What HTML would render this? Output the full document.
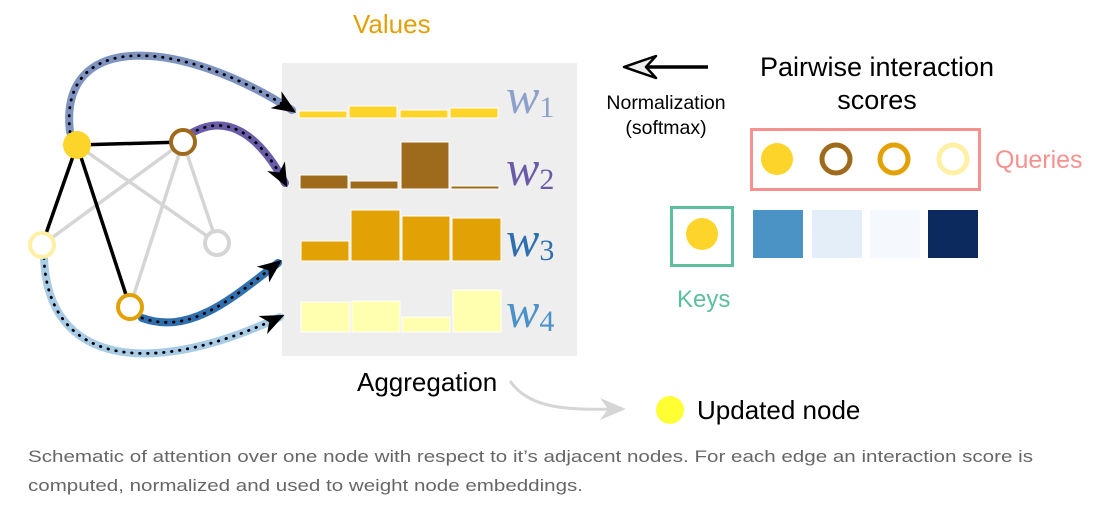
<!DOCTYPE html>
<html><head><meta charset="utf-8"><style>
html,body{margin:0;padding:0;background:#fff;}
svg{display:block;font-family:"Liberation Sans",sans-serif;}
</style></head><body>
<svg width="1104" height="526" viewBox="0 0 1104 526" xmlns="http://www.w3.org/2000/svg">
<defs>
<marker id="ah" viewBox="0 0 24 24" refX="19" refY="12" markerWidth="24" markerHeight="24" markerUnits="userSpaceOnUse" orient="auto">
<path d="M0,2 L24,12 L0,22 L7,12 Z" fill="#000"/>
</marker>
</defs>
<rect x="282" y="63" width="295" height="293" fill="#eeeeee"/>
<text x="353" y="33" font-size="26" fill="#e3a008">Values</text>
<g fill="#fdd42a" stroke="#fff" stroke-width="1">
<rect x="299" y="111" width="48" height="7"/><rect x="349" y="106" width="48" height="12"/><rect x="400" y="110" width="48" height="8"/><rect x="450" y="108" width="48" height="10"/>
</g>
<g fill="#9e6b1d" stroke="#fff" stroke-width="1">
<rect x="300" y="175" width="48" height="14"/><rect x="350" y="181" width="48" height="8"/><rect x="401" y="142" width="48" height="47"/><rect x="451" y="186" width="48" height="3"/>
</g>
<g fill="#e2a206" stroke="#fff" stroke-width="1">
<rect x="301" y="241" width="48" height="20"/><rect x="351" y="210" width="49" height="51"/><rect x="402" y="216" width="48" height="45"/><rect x="452" y="218" width="49" height="43"/>
</g>
<g fill="#ffffaf" stroke="#fff" stroke-width="1">
<rect x="301" y="302" width="49" height="30"/><rect x="352" y="301" width="48" height="31"/><rect x="402" y="317" width="48" height="15"/><rect x="453" y="290" width="48" height="42"/>
</g>
<g font-family="'Liberation Serif',serif" font-style="italic" font-size="50">
<text x="506" y="113" fill="#8da0cb">w<tspan font-size="30" font-style="normal" dy="4">1</tspan></text>
<text x="506" y="185" fill="#6a5aa8">w<tspan font-size="30" font-style="normal" dy="4">2</tspan></text>
<text x="506" y="256" fill="#2f6fb0">w<tspan font-size="30" font-style="normal" dy="4">3</tspan></text>
<text x="506" y="327" fill="#4a92c8">w<tspan font-size="30" font-style="normal" dy="4">4</tspan></text>
</g>
<g stroke="#d5d5d5" stroke-width="3.5">
<line x1="77" y1="145" x2="217" y2="243"/><line x1="183" y1="142" x2="42" y2="245"/><line x1="183" y1="142" x2="130" y2="307"/><line x1="183" y1="142" x2="217" y2="243"/>
</g>
<g stroke="#000" stroke-width="3.5">
<line x1="77" y1="145" x2="183" y2="142"/><line x1="77" y1="145" x2="42" y2="245"/><line x1="77" y1="145" x2="130" y2="307"/>
</g>
<g fill="none" stroke-linecap="round">
<path d="M70,132 C58,30 180,38 292,110" stroke="#7f93c0" stroke-width="8"/>
<path d="M70,132 C58,30 180,38 292,110" stroke="#000" stroke-width="2.8" stroke-dasharray="0.5 7.5" marker-end="url(#ah)"/>
<path d="M190,134 C230,110 262,140 285,183" stroke="#6a5ca8" stroke-width="8"/>
<path d="M190,134 C230,110 262,140 285,183" stroke="#000" stroke-width="2.8" stroke-dasharray="0.5 7.5" marker-end="url(#ah)"/>
<path d="M142,318 C190,335 230,300 278,263" stroke="#2f6fad" stroke-width="8"/>
<path d="M142,318 C190,335 230,300 278,263" stroke="#000" stroke-width="2.8" stroke-dasharray="0.5 7.5" marker-end="url(#ah)"/>
<path d="M44,258 C48,365 150,378 280,317" stroke="#a8cbe6" stroke-width="8"/>
<path d="M44,258 C48,365 150,378 280,317" stroke="#000" stroke-width="2.8" stroke-dasharray="0.5 7.5" marker-end="url(#ah)"/>
</g>
<circle cx="77" cy="145" r="14" fill="#fdd42a"/>
<circle cx="183" cy="142" r="12" fill="#fff" stroke="#9e6b1d" stroke-width="4"/>
<circle cx="42" cy="245" r="12" fill="#fff" stroke="#fff0a5" stroke-width="4"/>
<circle cx="217" cy="243" r="12" fill="#fff" stroke="#d5d5d5" stroke-width="4"/>
<circle cx="130" cy="307" r="12" fill="#fff" stroke="#e2a206" stroke-width="4"/>
<line x1="645" y1="67" x2="708" y2="67" stroke="#000" stroke-width="3.5"/>
<path d="M624,67 L656,56 L646,67 L656,78 Z" fill="#eee" stroke="#000" stroke-width="2.5" stroke-linejoin="round"/>
<text x="666" y="109" font-size="19.5" text-anchor="middle">Normalization</text>
<text x="666" y="134" font-size="19.5" text-anchor="middle">(softmax)</text>
<text x="877" y="76" font-size="27" text-anchor="middle">Pairwise interaction</text>
<text x="877" y="109" font-size="27" text-anchor="middle">scores</text>
<rect x="751.5" y="129.5" width="228" height="60" fill="none" stroke="#f59290" stroke-width="3"/>
<circle cx="777" cy="159" r="16" fill="#fdd42a"/>
<circle cx="836" cy="159" r="14" fill="#fff" stroke="#9e6b1d" stroke-width="5"/>
<circle cx="894" cy="159" r="14" fill="#fff" stroke="#e2a206" stroke-width="5"/>
<circle cx="953" cy="159" r="14" fill="#fff" stroke="#fff0a5" stroke-width="5"/>
<text x="995" y="168" font-size="25" fill="#f59290">Queries</text>
<rect x="671.5" y="207.5" width="61" height="58" fill="none" stroke="#5cbf9d" stroke-width="3"/>
<circle cx="702" cy="234" r="16" fill="#fdd42a"/>
<rect x="753" y="210" width="50" height="48" fill="#4b93c5"/>
<rect x="812" y="210" width="50" height="48" fill="#e4eef8"/>
<rect x="870" y="210" width="50" height="48" fill="#f5f9fd"/>
<rect x="928" y="210" width="50" height="48" fill="#0d2a5f"/>
<text x="677" y="307" font-size="24" fill="#5cbf9d">Keys</text>
<text x="357" y="391" font-size="26">Aggregation</text>
<path d="M510,381 C530,410 570,410 620,409" fill="none" stroke="#d5d5d5" stroke-width="3"/>
<path d="M600,398 L626,409 L600,420 L608,409 Z" fill="#d5d5d5"/>
<circle cx="670" cy="410" r="14" fill="#ffff33"/>
<text x="697" y="419" font-size="26">Updated node</text>
<text x="28" y="462" font-size="17" fill="#666" textLength="1005" lengthAdjust="spacingAndGlyphs">Schematic of attention over one node with respect to it’s adjacent nodes. For each edge an interaction score is</text>
<text x="28" y="491" font-size="17" fill="#666" textLength="555" lengthAdjust="spacingAndGlyphs">computed, normalized and used to weight node embeddings.</text>
</svg>
</body></html>
